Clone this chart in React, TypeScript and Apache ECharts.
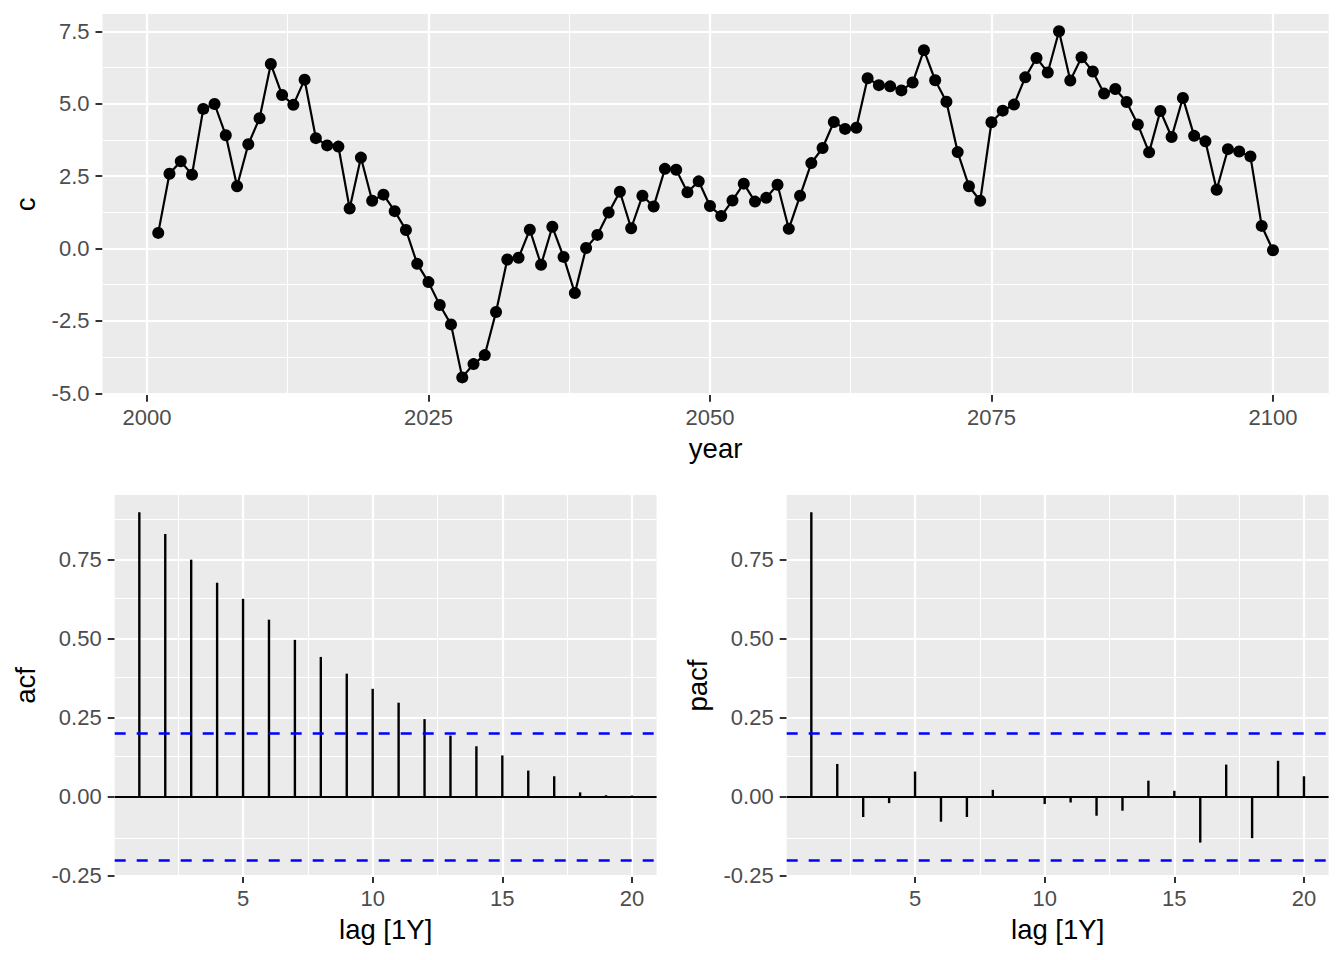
import React, { useEffect, useRef } from "react";
import * as echarts from "echarts";

// ---------------- data ----------------
const startYear = 2001;
const cValues = [
  0.54, 2.58, 3.01, 2.55, 4.82, 4.99, 3.91, 2.15, 3.6, 4.5,
  6.37, 5.3, 4.96, 5.83, 3.81, 3.56, 3.52, 1.38, 3.14, 1.65,
  1.86, 1.29, 0.64, -0.53, -1.16, -1.95, -2.62, -4.45, -3.99, -3.68,
  -2.19, -0.38, -0.32, 0.65, -0.56, 0.75, -0.29, -1.54, 0.02, 0.47,
  1.24, 1.96, 0.7, 1.82, 1.45, 2.75, 2.72, 1.94, 2.32, 1.47,
  1.12, 1.66, 2.24, 1.62, 1.75, 2.2, 0.68, 1.82, 2.95, 3.47,
  4.37, 4.13, 4.17, 5.88, 5.64, 5.6, 5.46, 5.73, 6.85, 5.81,
  5.07, 3.33, 2.15, 1.65, 4.36, 4.76, 4.97, 5.91, 6.58, 6.08,
  7.5, 5.8, 6.6, 6.11, 5.35, 5.51, 5.06, 4.28, 3.32, 4.75,
  3.85, 5.2, 3.89, 3.7, 2.03, 3.43, 3.35, 3.18, 0.78, -0.06,
];
const years = cValues.map((_, i) => startYear + i);

const lags = [1, 2, 3, 4, 5, 6, 7, 8, 9, 10, 11, 12, 13, 14, 15, 16, 17, 18, 19, 20];
const acfValues = [
  0.901, 0.832, 0.751, 0.678, 0.627, 0.561, 0.497, 0.443, 0.39, 0.342,
  0.298, 0.246, 0.194, 0.16, 0.131, 0.083, 0.065, 0.014, 0.005, 0.004,
];
const pacfValues = [
  0.901, 0.104, -0.064, -0.02, 0.08, -0.079, -0.064, 0.022, 0.002, -0.023,
  -0.018, -0.06, -0.044, 0.051, 0.019, -0.145, 0.102, -0.131, 0.114, 0.065,
];
const ciBound = 0.196;

const yearTicks = [2000, 2025, 2050, 2075, 2100];
const yearMinor = [2012.5, 2037.5, 2062.5, 2087.5];
const cTicks = [-5, -2.5, 0, 2.5, 5, 7.5];
const cMinor = [-3.75, -1.25, 1.25, 3.75, 6.25];
const lagTicks = [5, 10, 15, 20];
const lagMinor = [2.5, 7.5, 12.5, 17.5];
const corTicks = [-0.25, 0, 0.25, 0.5, 0.75];
const corMinor = [-0.125, 0.125, 0.375, 0.625, 0.875];

// ---------------- helpers ----------------
const FONT = "'Liberation Sans', Arial, Helvetica, sans-serif";
const TICK_COLOR = "#4D4D4D";

function expand(values: number[], mult = 0.05): [number, number] {
  const lo = Math.min(...values);
  const hi = Math.max(...values);
  const r = hi - lo;
  return [lo - r * mult, hi + r * mult];
}

function gridLineSeries(idx: number, xMajor: number[], xMinor: number[], yMajor: number[], yMinor: number[]) {
  const major = { color: "#FFFFFF", width: 2.2, type: "solid" as const };
  const minor = { color: "#FFFFFF", width: 1.1, type: "solid" as const };
  return {
    type: "line",
    xAxisIndex: idx,
    yAxisIndex: idx,
    data: [],
    silent: true,
    z: 1,
    markLine: {
      z: 1,
      silent: true,
      symbol: ["none", "none"],
      label: { show: false },
      emphasis: { disabled: true },
      data: [
        ...xMinor.map((v) => ({ xAxis: v, lineStyle: minor })),
        ...yMinor.map((v) => ({ yAxis: v, lineStyle: minor })),
        ...xMajor.map((v) => ({ xAxis: v, lineStyle: major })),
        ...yMajor.map((v) => ({ yAxis: v, lineStyle: major })),
      ],
    },
  };
}

function makeXAxis(idx: number, range: [number, number], ticks: number[], fmt: (v: number) => string) {
  return {
    type: "value",
    gridIndex: idx,
    min: range[0],
    max: range[1],
    axisLine: { show: false, onZero: false },
    splitLine: { show: false },
    minorSplitLine: { show: false },
    axisTick: { show: true, customValues: ticks, length: 7, lineStyle: { color: "#333333", width: 2 } },
    axisLabel: {
      show: true,
      customValues: ticks,
      margin: 11.5,
      color: TICK_COLOR,
      fontSize: 22,
      fontFamily: FONT,
      formatter: (v: number) => fmt(v),
    },
  };
}

function makeYAxis(idx: number, range: [number, number], ticks: number[], fmt: (v: number) => string) {
  return {
    type: "value",
    gridIndex: idx,
    min: range[0],
    max: range[1],
    axisLine: { show: false },
    splitLine: { show: false },
    minorSplitLine: { show: false },
    axisTick: { show: true, customValues: ticks, length: 7, lineStyle: { color: "#333333", width: 2 } },
    axisLabel: {
      show: true,
      customValues: ticks,
      margin: 13,
      color: TICK_COLOR,
      fontSize: 22,
      fontFamily: FONT,
      formatter: (v: number) => fmt(v),
    },
  };
}

function refLineSeries(idx: number) {
  const blue = { color: "#0000FF", width: 2.6, type: [11, 11] as any };
  return {
    type: "line",
    xAxisIndex: idx,
    yAxisIndex: idx,
    data: [],
    silent: true,
    z: 6,
    markLine: {
      z: 6,
      silent: true,
      symbol: ["none", "none"],
      label: { show: false },
      emphasis: { disabled: true },
      data: [
        { yAxis: 0, lineStyle: { color: "#000000", width: 2.2, type: "solid" } },
        { yAxis: ciBound, lineStyle: blue },
        { yAxis: -ciBound, lineStyle: blue },
      ],
    },
  };
}

export default function App() {
  const ref = useRef<HTMLDivElement>(null);

  useEffect(() => {
    if (!ref.current) return;
    const chart = echarts.init(ref.current, undefined, { renderer: "svg" });

    // layout (pixels)
    const g0 = { left: 102.5, top: 14, width: 1226.2, height: 380.7 };
    const g1 = { left: 114.7, top: 495, width: 541.9, height: 381 };
    const g2 = { left: 786.7, top: 495, width: 541.9, height: 381 };

    const yearRange = expand(years);
    const cRange = expand(cValues);
    const lagRange = expand(lags);
    const acfRange = expand([...acfValues, 0, ciBound, -ciBound]);
    const pacfRange = expand([...pacfValues, 0, ciBound, -ciBound]);

    const titleStyle = { fill: "#000000", fontSize: 27.5, fontFamily: FONT, align: "center", verticalAlign: "middle" };

    const barSeries = (idx: number, vals: number[]) => ({
      type: "bar",
      xAxisIndex: idx,
      yAxisIndex: idx,
      data: lags.map((l, i) => [l, vals[i]]),
      barWidth: 2.4,
      itemStyle: { color: "#000000" },
      z: 4,
      silent: true,
    });

    const option: any = {
      animation: false,
      backgroundColor: "#FFFFFF",
      grid: [g0, g1, g2].map((g) => ({
        ...g,
        show: true,
        backgroundColor: "#EBEBEB",
        borderWidth: 0,
        containLabel: false,
        outerBoundsMode: "none",
      })),
      xAxis: [
        makeXAxis(0, yearRange, yearTicks, (v) => String(v)),
        makeXAxis(1, lagRange, lagTicks, (v) => String(v)),
        makeXAxis(2, lagRange, lagTicks, (v) => String(v)),
      ],
      yAxis: [
        makeYAxis(0, cRange, cTicks, (v) => v.toFixed(1)),
        makeYAxis(1, acfRange, corTicks, (v) => v.toFixed(2)),
        makeYAxis(2, pacfRange, corTicks, (v) => v.toFixed(2)),
      ],
      series: [
        gridLineSeries(0, yearTicks, yearMinor, cTicks, cMinor),
        gridLineSeries(1, lagTicks, lagMinor, corTicks, corMinor),
        gridLineSeries(2, lagTicks, lagMinor, corTicks, corMinor),
        {
          type: "line",
          xAxisIndex: 0,
          yAxisIndex: 0,
          data: years.map((y, i) => [y, cValues[i]]),
          symbol: "circle",
          symbolSize: 12,
          showAllSymbol: true,
          itemStyle: { color: "#000000" },
          lineStyle: { color: "#000000", width: 2.2 },
          z: 5,
          silent: true,
        },
        barSeries(1, acfValues),
        barSeries(2, pacfValues),
        refLineSeries(1),
        refLineSeries(2),
      ],
      graphic: [
        { type: "text", x: 25.5, y: g0.top + g0.height / 2, rotation: Math.PI / 2, style: { ...titleStyle, text: "c" } },
        { type: "text", x: g0.left + g0.width / 2, y: g0.top + g0.height + 53.5, style: { ...titleStyle, text: "year" } },
        { type: "text", x: 25.5, y: g1.top + g1.height / 2, rotation: Math.PI / 2, style: { ...titleStyle, text: "acf" } },
        { type: "text", x: g1.left + g1.width / 2, y: g1.top + g1.height + 53.5, style: { ...titleStyle, text: "lag [1Y]" } },
        { type: "text", x: 697.5, y: g2.top + g2.height / 2, rotation: Math.PI / 2, style: { ...titleStyle, text: "pacf" } },
        { type: "text", x: g2.left + g2.width / 2, y: g2.top + g2.height + 53.5, style: { ...titleStyle, text: "lag [1Y]" } },
      ],
    };

    chart.setOption(option);
    return () => chart.dispose();
  }, []);

  return (
    <div
      ref={ref}
      style={{ position: "fixed", left: 0, top: 0, width: 1344, height: 960, background: "#FFFFFF" }}
    />
  );
}
